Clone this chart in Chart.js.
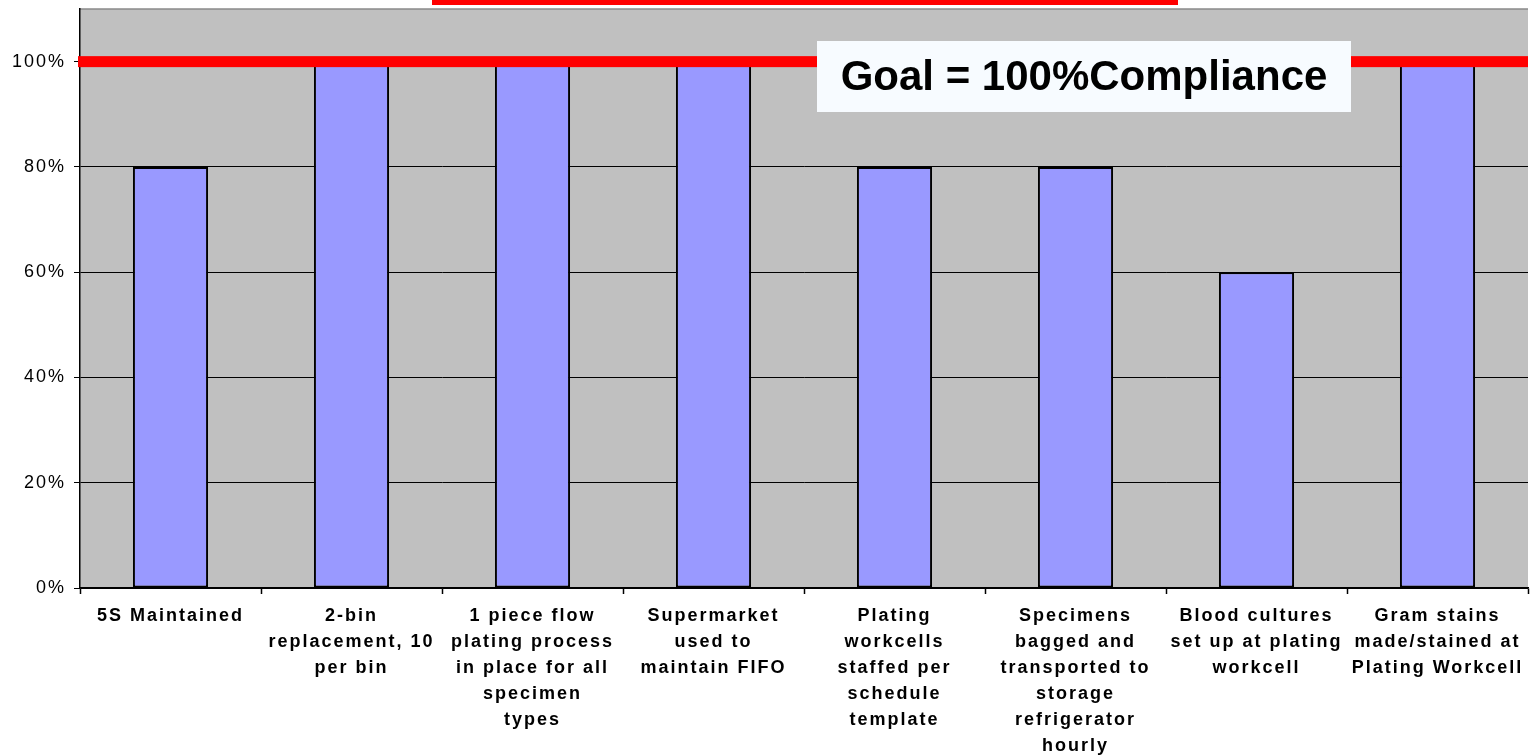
<!DOCTYPE html>
<html>
<head>
<meta charset="utf-8">
<script src="https://cdn.jsdelivr.net/npm/chart.js@4.4.1/dist/chart.umd.min.js"></script>
<style>
  html, body { margin: 0; padding: 0; background: #fff; }
  canvas { display: block; }
</style>
</head>
<body>
<canvas id="chart" width="1531" height="756"></canvas>
<script>
// categories, split into the lines shown under each bar
const categories = [
  ["5S Maintained"],
  ["2-bin", "replacement, 10", "per bin"],
  ["1 piece flow", "plating process", "in place for all", "specimen", "types"],
  ["Supermarket", "used to", "maintain FIFO"],
  ["Plating", "workcells", "staffed per", "schedule", "template"],
  ["Specimens", "bagged and", "transported to", "storage", "refrigerator", "hourly"],
  ["Blood cultures", "set up at plating", "workcell"],
  ["Gram stains", "made/stained at", "Plating Workcell"],
];
const compliance = [80, 100, 100, 100, 80, 80, 60, 100];
const yTicks = [0, 20, 40, 60, 80, 100];
const goalValue = 100;
const goalLabel = "Goal = 100%Compliance";

const FONT = '"Liberation Sans", Arial, sans-serif';

// gray plot background, goal line and goal label
const decorations = {
  id: "decorations",
  beforeDraw(chart) {
    const { ctx, chartArea: a } = chart;
    ctx.save();
    ctx.fillStyle = "#C0C0C0";
    ctx.fillRect(a.left, a.top, a.right - a.left, a.bottom - a.top);
    ctx.strokeStyle = "#8a8a8a";
    ctx.lineWidth = 1.5;
    ctx.beginPath();
    ctx.moveTo(a.left, a.top);
    ctx.lineTo(a.right, a.top);
    ctx.stroke();
    // edge of the red title frame cut off at the top
    ctx.fillStyle = "#FF0000";
    ctx.fillRect(432, 0, 746, 5);
    ctx.restore();
    ctx.letterSpacing = "2px";
  },
  afterDatasetsDraw(chart) {
    const { ctx, chartArea: a, scales } = chart;
    const y = scales.y.getPixelForValue(goalValue);
    ctx.save();
    ctx.letterSpacing = "0px";
    ctx.fillStyle = "#FF0000";
    ctx.fillRect(a.left - 2, y - 5.5, a.right - a.left + 2, 11);

    const bx = 817, by = 41, bw = 534, bh = 71;
    ctx.fillStyle = "#F7FBFF";
    ctx.fillRect(bx, by, bw, bh);
    ctx.fillStyle = "#000";
    ctx.font = "bold 42px " + FONT;
    ctx.textAlign = "center";
    ctx.textBaseline = "middle";
    ctx.fillText(goalLabel, bx + bw / 2, by + bh / 2 + 2);
    ctx.restore();
  },
};

new Chart(document.getElementById("chart"), {
  type: "bar",
  data: {
    labels: categories,
    datasets: [{
      data: compliance,
      backgroundColor: "#9999FF",
      borderColor: "#000",
      borderWidth: 2,
      borderSkipped: false,
      categoryPercentage: 1,
      barPercentage: 0.415,
    }],
  },
  options: {
    responsive: false,
    animation: false,
    events: [],
    layout: { padding: { top: 9, right: 3, left: 0, bottom: 0 } },
    plugins: { legend: { display: false }, tooltip: { enabled: false } },
    scales: {
      x: {
        grid: { drawOnChartArea: false, drawTicks: true, tickLength: 6, tickColor: "#000", tickWidth: 1.5 },
        border: { color: "#000", width: 1.5 },
        ticks: {
          color: "#000",
          maxRotation: 0,
          minRotation: 0,
          autoSkip: false,
          padding: 9,
          font: { family: FONT, size: 18, weight: "bold", lineHeight: "26px" },
        },
        afterFit(scale) { scale.height = 168; scale.paddingLeft = 0; scale.paddingRight = 0; },
      },
      y: {
        min: 0,
        max: 110,
        afterBuildTicks(scale) {
          scale.ticks = yTicks.map(v => ({ value: v }));
        },
        grid: { color: "#000", lineWidth: 1, tickLength: 6, tickColor: "#000" },
        border: { color: "#000", width: 1.5 },
        ticks: {
          color: "#000",
          padding: 8,
          callback: v => v + "%",
          font: { family: FONT, size: 18 },
        },
        afterFit(scale) { scale.width = 80; scale.paddingTop = 0; scale.paddingBottom = 0; },
      },
    },
  },
  plugins: [decorations],
});
</script>
</body>
</html>
